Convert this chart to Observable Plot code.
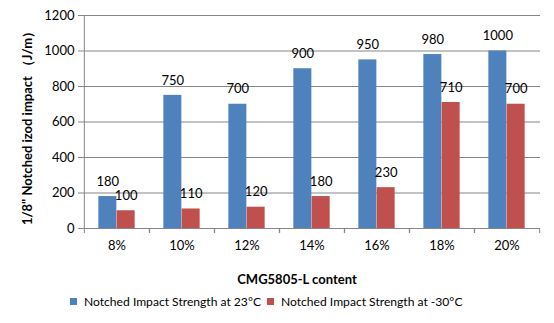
<!DOCTYPE html>
<html><head><meta charset="utf-8">
<script src="https://cdn.jsdelivr.net/npm/d3@7"></script>
<script src="https://cdn.jsdelivr.net/npm/@observablehq/plot@0.6"></script>
<style>
body{margin:0;background:#fff;font-family:Lato,sans-serif;}
#legend{display:flex;align-items:center;height:22px;padding-left:70px;font-size:12.1px;color:#000;white-space:nowrap}
#legend .sw{display:inline-block;width:7px;height:7px;margin-right:7px}
#legend .item{display:flex;align-items:center;margin-right:6px}
</style></head><body><div id="chart"></div><div id="legend"></div>
<script>
const categories = ["8%","10%","12%","14%","16%","18%","20%"];
const series = ["Notched Impact Strength at 23°C","Notched Impact Strength at -30°C"];
const at23 = [180,750,700,900,950,980,1000];
const atMinus30 = [100,110,120,180,230,710,700];
const colors = ["#4F81BD","#C0504D"];
const yTicks = [0,200,400,600,800,1000,1200];
const yTitle = "1/8\" Notched izod impact \uFF08J/m\uFF09";
const xTitle = "CMG5805-L content";

const data = categories.flatMap((c,i)=>[
  {cat:c, series:series[0], value:at23[i]},
  {cat:c, series:series[1], value:atMinus30[i]}
]);
const W=554, ML=83, MR=14;
const bw = (W-ML-MR)/categories.length;
const barW = 18.3;
const inset = (bw-barW)/2;
const grey = "#868686";
const s0 = data.filter(d=>d.series===series[0]);
const s1 = data.filter(d=>d.series===series[1]);

const chart = Plot.plot({
  width: W, height: 290, marginLeft: ML, marginRight: MR, marginTop: 15, marginBottom: 62,
  style: {fontFamily: "Lato, sans-serif", fontSize: "13px", color: "#000", background: "#fff", overflow: "visible"},
  x: {domain: categories, padding: 0, label: null},
  y: {domain: [0,1200], label: null},
  color: {domain: series, range: colors},
  marks: [
    Plot.gridY(yTicks, {stroke: grey, strokeOpacity: 1}),
    Plot.barY(s0, {x:"cat", y:"value", fill:"series", insetLeft: inset, insetRight: inset, dx: -barW/2}),
    Plot.barY(s1, {x:"cat", y:"value", fill:"series", insetLeft: inset, insetRight: inset, dx: barW/2}),
    Plot.text(s0, {x:"cat", y:"value", text: d=>String(d.value), dx: -barW/2, dy: -15, fill:"#000"}),
    Plot.text(s1, {x:"cat", y:"value", text: d=>String(d.value), dx: barW/2, dy: -15, fill:"#000"}),
    Plot.axisY(yTicks, {tickSize: 5, tickPadding: 4, stroke: grey, fill: "#000", label: null, tickFormat: d=>String(d)}),
    Plot.ruleX([categories[0]], {y1: 0, y2: 1200, dx: -bw/2, stroke: grey}),
    Plot.ruleY([0], {stroke: grey}),
    Plot.axisX({tickSize: 0, tickPadding: 12, fill: "#000", label: null}),
    Plot.axisX({tickSize: 5, dx: -bw/2, text: null, stroke: grey, label: null}),
    Plot.axisX({tickSize: 5, dx: bw/2, text: null, stroke: grey, label: null}),
    Plot.text([yTitle], {frameAnchor: "left", textAnchor: "middle", rotate: -90, dx: -56, dy: 3, fontWeight: "bold", fill: "#000"}),
    Plot.text([xTitle], {frameAnchor: "bottom", textAnchor: "middle", dx: -15, dy: 55, fontWeight: "bold", fill: "#000"})
  ]
});
document.getElementById("chart").appendChild(chart);

const legend = d3.select("#legend");
series.forEach((s,i)=>{
  const it = legend.append("span").attr("class","item");
  it.append("span").attr("class","sw").style("background", colors[i]);
  it.append("span").text(s);
});
</script></body></html>
